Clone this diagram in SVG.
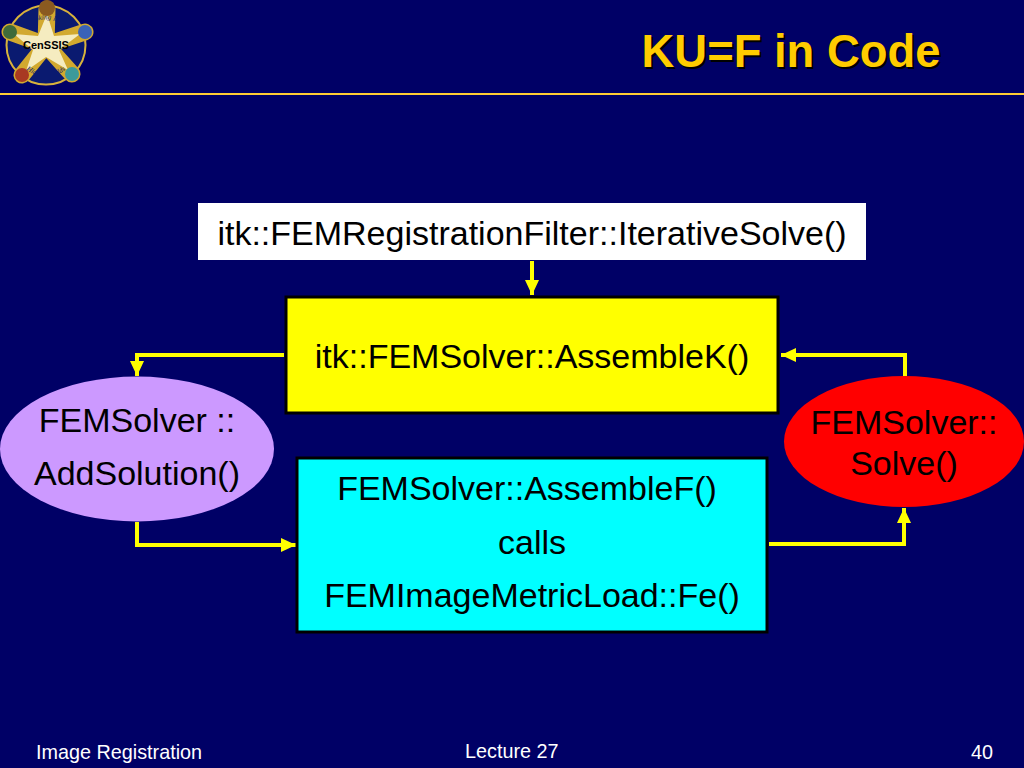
<svg xmlns="http://www.w3.org/2000/svg" width="1024" height="768" viewBox="0 0 1024 768">
<defs>
<marker id="ah" markerUnits="userSpaceOnUse" markerWidth="16" markerHeight="15" refX="15" refY="7.5" orient="auto"><path d="M0 0.5L15 7.5L0 14.5Z" fill="#ffff00"/></marker>
<path id="arcTop" d="M20 37A28 28 0 0 1 72 37"/>
<path id="arcBot" d="M17 58A32 32 0 0 0 75 58"/>
<style>
text{font-family:"Liberation Sans",Arial,sans-serif;fill:#000}
.t{font-size:34px;text-anchor:middle}
.f{font-size:19.8px;fill:#fff}
.c{fill:none;stroke:#ffff00;stroke-width:4;marker-end:url(#ah)}
.b{stroke:#000;stroke-width:3}
.arm{stroke:#d2a92f;stroke-width:17;stroke-linecap:round}
.lg{font-family:"Liberation Serif",serif;font-size:7px;font-style:italic;fill:#0a1a70;text-anchor:middle}
</style>
</defs>
<rect width="1024" height="768" fill="#000066"/>
<rect y="93" width="1024" height="2" fill="#ffcc33"/>
<g id="logo">
<circle cx="46" cy="45" r="39.500" fill="#0a1a70" stroke="#d8b23c" stroke-width="2"/>
<path class="arm" d="M46 45L47 9M46 45L85 32M46 45L72 74M46 45L22 75M46 45L10 32"/>
<path d="M47 14L54 36L80 34L59 50L68 70L46 57L26 71L33 50L14 34L38 36Z" fill="#f5ecc0"/>
<circle cx="47" cy="8" r="8" fill="#8a5a20"/><circle cx="85" cy="32" r="7" fill="#3a62b8"/><circle cx="72" cy="74" r="7" fill="#3c9a9a"/><circle cx="22" cy="75" r="7" fill="#a83a22"/><circle cx="10" cy="32" r="7" fill="#3f6b3a"/>
<text class="lg"><textPath href="#arcTop" startOffset="50%">Looking Into</textPath></text>
<text class="lg"><textPath href="#arcBot" startOffset="50%">Hidden Worlds</textPath></text>
<text x="46" y="49" font-size="11" font-weight="bold" text-anchor="middle">CenSSIS</text>
</g>
<g id="title"><text x="793" y="69" font-size="45.400" font-weight="bold" text-anchor="middle" style="fill:#000">KU=F in Code</text><text x="791" y="67" font-size="45.400" font-weight="bold" text-anchor="middle" style="fill:#ffcc00">KU=F in Code</text></g>
<g id="connectors">
<path class="c" d="M532 261V295"/>
<path class="c" d="M284 355H137V376"/>
<path class="c" d="M905 376V355H781"/>
<path class="c" d="M137 522V545H296"/>
<path class="c" d="M769 544H904V508"/>
</g>
<g id="top"><rect x="198" y="203" width="668" height="57" fill="#fff"/><text class="t" x="532" y="245">itk::FEMRegistrationFilter::IterativeSolve()</text></g>
<g id="assemblek"><rect class="b" x="286" y="297" width="492" height="116" fill="#ffff00"/><text class="t" x="532" y="368">itk::FEMSolver::AssembleK()</text></g>
<g id="assemblef"><rect class="b" x="297" y="458" width="470" height="174" fill="#00ffff"/><text class="t" x="527" y="500">FEMSolver::AssembleF()</text><text class="t" x="532" y="554">calls</text><text class="t" x="532" y="607">FEMImageMetricLoad::Fe()</text></g>
<g id="addsolution"><ellipse cx="137" cy="449" rx="137" ry="72.500" fill="#cc99ff"/><text class="t" x="137" y="432">FEMSolver ::</text><text class="t" x="137" y="485">AddSolution()</text></g>
<g id="solve"><ellipse cx="904" cy="441.500" rx="120" ry="65.500" fill="#ff0000"/><text class="t" x="904" y="434">FEMSolver::</text><text class="t" x="904" y="475">Solve()</text></g>
<g id="footer"><text class="f" x="36" y="759">Image Registration</text><text class="f" x="465" y="758">Lecture 27</text><text class="f" x="971" y="759">40</text></g>
</svg>
